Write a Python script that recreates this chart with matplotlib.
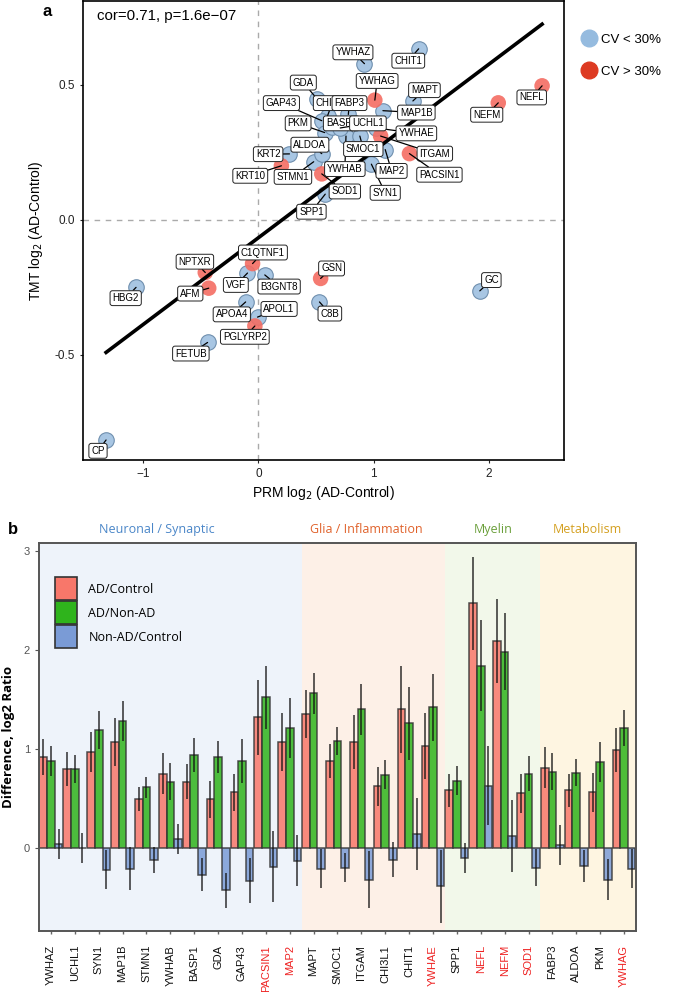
import numpy as np
import matplotlib.pyplot as plt
from matplotlib.lines import Line2D
from matplotlib.patches import Patch
import matplotlib.transforms as mtransforms

plt.rcParams['font.family'] = ['Liberation Sans', 'DejaVu Sans']

# ---- panel a: PRM vs TMT ----
genes_a = ["CP", "HBG2", "FETUB", "NPTXR", "AFM", "C1QTNF1", "VGF", "B3GNT8", "GSN", "C8B",
           "APOA4", "APOL1", "PGLYRP2", "GC", "SPP1", "SOD1", "STMN1", "ALDOA", "KRT2", "KRT10",
           "YWHAB", "SMOC1", "SYN1", "MAP2", "ITGAM", "PACSIN1", "YWHAE", "GDA", "CHI3L1", "GAP43",
           "FABP3", "PKM", "BASP1", "UCHL1", "MAP1B", "MAPT", "YWHAG", "YWHAZ", "CHIT1", "NEFM", "NEFL"]
prm_x = [-1.32, -1.06, -0.44, -0.46, -0.43, -0.05, -0.094, 0.056, 0.54, 0.53,
         -0.11, -0.007, -0.03, 1.92, 0.58, 0.55, 0.48, 0.55, 0.27, 0.20,
         0.76, 0.88, 0.98, 1.10, 1.06, 1.31, 1.02, 0.51, 0.60, 0.55,
         0.78, 0.575, 0.64, 0.71, 1.08, 1.34, 1.01, 0.92, 1.39, 2.08, 2.46]
tmt_y = [-0.815, -0.25, -0.454, -0.195, -0.253, -0.162, -0.197, -0.204, -0.217, -0.304,
         -0.304, -0.36, -0.393, -0.263, 0.095, 0.17, 0.215, 0.245, 0.244, 0.20,
         0.31, 0.31, 0.206, 0.26, 0.31, 0.245, 0.34, 0.447, 0.385, 0.367,
         0.39, 0.323, 0.345, 0.34, 0.404, 0.44, 0.443, 0.578, 0.633, 0.433, 0.496]
cv_high = ["NPTXR", "AFM", "C1QTNF1", "GSN", "PGLYRP2", "SOD1", "KRT10", "ITGAM",
           "PACSIN1", "YWHAG", "NEFM", "NEFL"]

# where each repelled label sits (data coords)
label_pos = {
    "CP": (-1.39, -0.855), "HBG2": (-1.15, -0.29), "FETUB": (-0.585, -0.495),
    "NPTXR": (-0.55, -0.155), "AFM": (-0.59, -0.273), "C1QTNF1": (0.04, -0.121),
    "VGF": (-0.195, -0.241), "B3GNT8": (0.18, -0.247), "GSN": (0.635, -0.18),
    "C8B": (0.62, -0.347), "APOA4": (-0.23, -0.35), "APOL1": (0.18, -0.33),
    "PGLYRP2": (-0.117, -0.433), "GC": (2.02, -0.223), "SPP1": (0.46, 0.03),
    "SOD1": (0.75, 0.105), "STMN1": (0.30, 0.159), "ALDOA": (0.447, 0.278),
    "KRT2": (0.085, 0.243), "KRT10": (-0.07, 0.163), "YWHAB": (0.75, 0.188),
    "SMOC1": (0.91, 0.262), "SYN1": (1.10, 0.10), "MAP2": (1.155, 0.181),
    "ITGAM": (1.53, 0.245), "PACSIN1": (1.57, 0.167), "YWHAE": (1.37, 0.32),
    "GDA": (0.39, 0.508), "CHI3L1": (0.64, 0.432), "GAP43": (0.20, 0.432),
    "FABP3": (0.79, 0.432), "PKM": (0.345, 0.357), "BASP1": (0.72, 0.357),
    "UCHL1": (0.95, 0.357), "MAP1B": (1.37, 0.397), "MAPT": (1.44, 0.48),
    "YWHAG": (1.03, 0.514), "YWHAZ": (0.82, 0.62), "CHIT1": (1.30, 0.589),
    "NEFM": (1.98, 0.389), "NEFL": (2.37, 0.453),
}

# ---- panel b: grouped bars ----
genes_b = ["YWHAZ", "UCHL1", "SYN1", "MAP1B", "STMN1", "YWHAB", "BASP1", "GDA", "GAP43",
           "PACSIN1", "MAP2", "MAPT", "SMOC1", "ITGAM", "CHI3L1", "CHIT1", "YWHAE",
           "SPP1", "NEFL", "NEFM", "SOD1", "FABP3", "ALDOA", "PKM", "YWHAG"]
ad_ctrl = [0.92, 0.80, 0.97, 1.07, 0.49, 0.75, 0.67, 0.49, 0.56, 1.32, 1.07, 1.35, 0.88,
           1.07, 0.62, 1.40, 1.03, 0.58, 2.47, 2.09, 0.55, 0.81, 0.58, 0.56, 0.99]
ad_ctrl_err = [0.18, 0.17, 0.20, 0.24, 0.12, 0.21, 0.18, 0.19, 0.19, 0.38, 0.29, 0.24, 0.17,
               0.27, 0.20, 0.44, 0.33, 0.17, 0.47, 0.42, 0.20, 0.21, 0.17, 0.20, 0.22]
ad_nonad = [0.88, 0.80, 1.19, 1.28, 0.61, 0.67, 0.94, 0.92, 0.88, 1.52, 1.21, 1.56, 1.08,
            1.40, 0.74, 1.26, 1.42, 0.68, 1.84, 1.98, 0.75, 0.77, 0.76, 0.87, 1.21]
ad_nonad_err = [0.15, 0.14, 0.19, 0.20, 0.11, 0.19, 0.17, 0.16, 0.22, 0.32, 0.30, 0.21, 0.14,
                0.26, 0.15, 0.37, 0.34, 0.15, 0.46, 0.39, 0.18, 0.19, 0.14, 0.20, 0.18]
nonad_ctrl = [0.04, 0.0, -0.22, -0.21, -0.12, 0.09, -0.27, -0.43, -0.33, -0.19, -0.13, -0.21,
              -0.20, -0.32, -0.12, 0.14, -0.39, -0.10, 0.63, 0.12, -0.20, 0.03, -0.18, -0.32, -0.21]
nonad_ctrl_err = [0.15, 0.155, 0.20, 0.22, 0.13, 0.15, 0.17, 0.18, 0.23, 0.36, 0.26, 0.20,
                  0.145, 0.29, 0.175, 0.36, 0.37, 0.15, 0.40, 0.36, 0.19, 0.20, 0.16, 0.21, 0.20]
red_genes = ["PACSIN1", "MAP2", "YWHAE", "NEFL", "NEFM", "SOD1", "YWHAG"]
categories = ["Neuronal / Synaptic", "Glia / Inflammation", "Myelin", "Metabolism"]
category_sizes = [11, 6, 4, 4]
cat_text_colors = ["#4a86c8", "#e0622b", "#6a9f3a", "#d4a020"]
cat_bg_colors = ["#eef3fa", "#fdf0e7", "#f2f8ea", "#fef5e1"]
title_shift = [-0.55, -0.3, 0.0, -0.05]

fig = plt.figure(figsize=(6.77, 9.92), dpi=100)

# ================= panel a =================
ax = fig.add_axes([0.1226, 0.5363, 0.7105, 0.4627])
ax.set_xlim(-1.52, 2.65)
ax.set_ylim(-0.889, 0.81)
ax.axvline(0, color="#aaaaaa", ls=(0, (4, 4)), lw=1, zorder=0)
ax.axhline(0, color="#aaaaaa", ls=(0, (4, 4)), lw=1, zorder=0)

xs = np.array(prm_x)
ys = np.array(tmt_y)
is_high = np.array([g in cv_high for g in genes_a])

ax.scatter(xs[~is_high], ys[~is_high], s=125, color="#a8c6e3", edgecolor="#6f8fae",
           linewidth=0.8, zorder=2)
ax.scatter(xs[is_high], ys[is_high], s=125, color="#f46d63", edgecolor="none",
           alpha=0.9, zorder=2)

slope, intercept = np.polyfit(xs, ys, 1)
xl = np.array([xs.min(), xs.max()])
ax.plot(xl, slope * xl + intercept, color="black", lw=2.6, zorder=3)

for g, x, y in zip(genes_a, prm_x, tmt_y):
    lx, ly = label_pos[g]
    z = 5 if g in ("FABP3", "UCHL1") else 4
    ax.annotate(g, xy=(x, y), xytext=(lx, ly), fontsize=7, ha="center", va="center",
                zorder=z,
                bbox=dict(boxstyle="round,pad=0.25,rounding_size=0.25", fc="white",
                          ec="#222222", lw=0.7),
                arrowprops=dict(arrowstyle="-", color="black", lw=0.9,
                                shrinkA=0, shrinkB=0))

ax.text(-1.4, 0.755, "cor=0.71, p=1.6e\u221207", fontsize=10.8, va="center")
ax.set_xticks([-1, 0, 1, 2])
ax.set_xticklabels(["\u22121", "0", "1", "2"])
ax.set_yticks([-0.5, 0.0, 0.5])
ax.set_yticklabels(["-0.5", "0.0", "0.5"])
ax.tick_params(labelsize=8.5, length=2.5, width=0.8, colors="#222222")
for sp in ax.spines.values():
    sp.set_linewidth(1.2)
ax.set_xlabel("PRM log$_2$ (AD-Control)", fontsize=10, labelpad=3)
ax.set_ylabel("TMT log$_2$ (AD-Control)", fontsize=10)
ax.yaxis.set_label_coords(-0.079, 0.5)

handles = [Line2D([], [], marker="o", ls="none", markersize=12, color="#95bbdf",
                  markeredgecolor="#95bbdf"),
           Line2D([], [], marker="o", ls="none", markersize=12, color="#dd3a22",
                  markeredgecolor="#dd3a22")]
ax.legend(handles, ["CV < 30%", "CV > 30%"], loc="upper left", bbox_to_anchor=(1.02, 0.94),
          frameon=False, fontsize=9.5, labelspacing=1.5, handletextpad=0.1,
          handlelength=1.6, borderaxespad=0)

fig.text(47 / 677, 1 - 12 / 992, "a", fontsize=12, fontweight="bold", ha="center", va="center")

# ================= panel b =================
bx = fig.add_axes([0.0576, 0.0615, 0.8818, 0.3911])
n = len(genes_b)
pos = np.arange(n)
w = 0.32
bx.set_xlim(-0.5, n - 0.5)
bx.set_ylim(-0.84, 3.08)

start = -0.5
for name, size, tc, bg, sh in zip(categories, category_sizes, cat_text_colors,
                                  cat_bg_colors, title_shift):
    bx.axvspan(start, start + size, color=bg, zorder=0, lw=0)
    bx.text(start + size / 2 + sh, 1.034, name, color=tc, fontsize=9, ha="center",
            va="center", transform=mtransforms.blended_transform_factory(bx.transData, bx.transAxes),
            family=["Open Sans", "DejaVu Sans"])
    start += size

series = [(ad_ctrl, ad_ctrl_err, "#f8776a", -w, "AD/Control"),
          (ad_nonad, ad_nonad_err, "#2fb41c", 0.0, "AD/Non-AD"),
          (nonad_ctrl, nonad_ctrl_err, "#7a9bd6", w, "Non-AD/Control")]
for vals, errs, col, off, lab in series:
    bx.bar(pos + off, vals, w, color=col, edgecolor="#333333", linewidth=1.1, alpha=0.85,
           zorder=2, label=lab)
    bx.errorbar(pos + off, vals, yerr=errs, fmt="none", ecolor="#111111", elinewidth=1.2,
                capsize=0, alpha=0.8, zorder=3)

bx.set_yticks([0, 1, 2, 3])
bx.tick_params(axis="y", labelsize=8, colors="#555555", length=3, width=0.8)
bx.set_xticks(pos)
bx.set_xticklabels(genes_b, rotation=90, fontsize=8)
bx.tick_params(axis="x", length=2, width=1, colors="#666666", pad=8)
for lbl, g in zip(bx.get_xticklabels(), genes_b):
    lbl.set_color("#ee2222" if g in red_genes else "#111111")
for sp in bx.spines.values():
    sp.set_linewidth(1.4)
    sp.set_color("#555555")
bx.set_ylabel("Difference, log2 Ratio", fontsize=9.5, fontweight="bold",
              family=["Open Sans", "DejaVu Sans"])
bx.yaxis.set_label_coords(-0.04, 0.5)

leg_handles = [Patch(facecolor=c, edgecolor="#333333", lw=1.2) for c in
               ["#f8776a", "#2fb41c", "#7a9bd6"]]
bx.legend(leg_handles, ["AD/Control", "AD/Non-AD", "Non-AD/Control"], loc="upper left",
          bbox_to_anchor=(0.018, 0.925), frameon=False, handlelength=1.8, handleheight=2.5,
          labelspacing=0.05, handletextpad=0.9, borderaxespad=0,
          prop=dict(family=["Open Sans", "DejaVu Sans"], size=9))

fig.text(13 / 677, 1 - 530 / 992, "b", fontsize=12, fontweight="bold", ha="center", va="center")

fig.savefig("out.png", dpi=100)
